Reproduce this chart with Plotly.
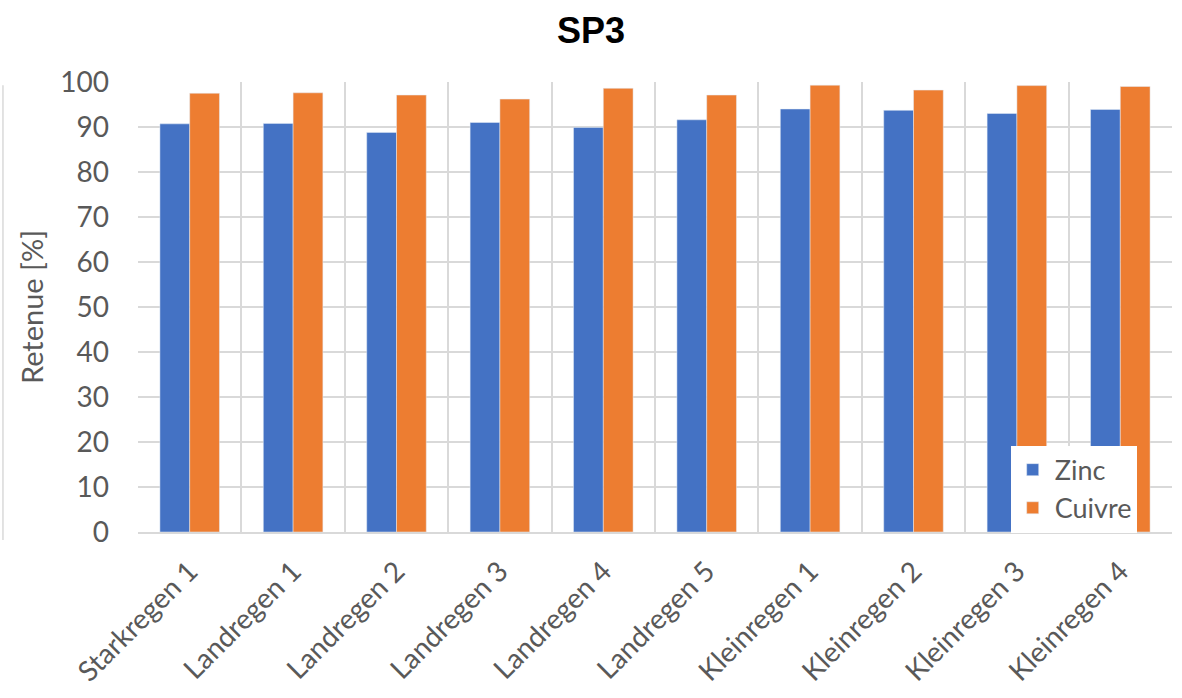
import plotly.graph_objects as go

categories = ["Starkregen 1", "Landregen 1", "Landregen 2", "Landregen 3", "Landregen 4",
              "Landregen 5", "Kleinregen 1", "Kleinregen 2", "Kleinregen 3", "Kleinregen 4"]
zinc = [90.7, 90.8, 88.8, 91.0, 89.9, 91.6, 94.0, 93.7, 93.0, 93.9]
cuivre = [97.5, 97.6, 97.1, 96.2, 98.6, 97.1, 99.3, 98.2, 99.2, 99.0]
y_ticks = [0, 10, 20, 30, 40, 50, 60, 70, 80, 90, 100]

font_main = "Lato, Open Sans, sans-serif"
grey_txt = "#595959"
grid = "#d9d9d9"

fig = go.Figure()
fig.add_trace(go.Bar(x=categories, y=zinc, name="Zinc", marker_color="#4472c4"))
fig.add_trace(go.Bar(x=categories, y=cuivre, name="Cuivre", marker_color="#ed7d31"))

fig.update_layout(
    width=1182, height=698,
    margin=dict(l=138, r=10, t=82, b=166, autoexpand=False),
    paper_bgcolor="white", plot_bgcolor="white",
    barmode="group", bargap=0.424, bargroupgap=0,
    title=dict(text="<b>SP3</b>", x=0.5, xanchor="center", y=0.957, yanchor="middle",
               font=dict(family="Liberation Sans, Arial, sans-serif", size=36, color="black")),
    font=dict(family=font_main, size=28, color=grey_txt),
    legend=dict(x=0.844, y=0.192, xanchor="left", yanchor="top", bgcolor="white",
                font=dict(size=27, color=grey_txt), tracegroupgap=0, itemwidth=34),
    showlegend=True,
)
fig.update_xaxes(type="category", tickson="boundaries", showgrid=True, gridcolor=grid,
                 gridwidth=1.5, tickangle=-45, ticks="", showline=True, linecolor=grid,
                 linewidth=1.5, automargin=False, ticklabelstandoff=10,
                 tickfont=dict(size=28, color=grey_txt))
fig.update_yaxes(range=[0, 100], tickvals=y_ticks, showgrid=True, gridcolor=grid,
                 gridwidth=1.5, zeroline=False, ticks="", ticklabelstandoff=28,
                 automargin=False,
                 title=dict(text="Retenue [%]", standoff=8, font=dict(size=29, color=grey_txt)),
                 tickfont=dict(size=28, color=grey_txt))

# border of the neighbouring chart visible at the far left of the reference
fig.add_shape(type="line", xref="paper", yref="paper", x0=-0.1306, x1=-0.1306,
              y0=-0.018, y1=0.993, line=dict(color=grid, width=1.5))

fig.write_html("out.html", config={"displayModeBar": False},
               post_script="document.body.style.margin='0px';")
